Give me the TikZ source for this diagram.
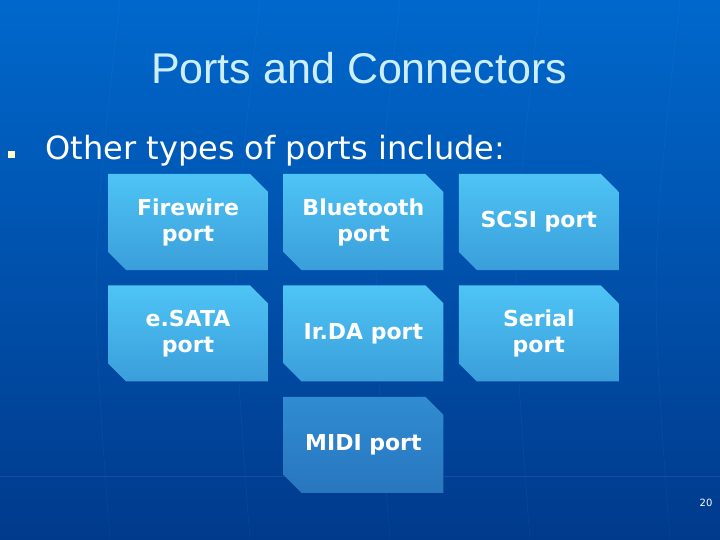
\documentclass[tikz,border=0pt]{standalone}
\usepackage{fontspec}
\setmainfont{Liberation Sans}
\newfontfamily\verdanafont{DejaVu Sans}
\usetikzlibrary{positioning,shapes.misc}
\definecolor{slideTop}{RGB}{0,104,204}
\definecolor{slideBottom}{RGB}{0,58,140}
\definecolor{titleCyan}{RGB}{205,238,255}
\definecolor{portTop}{RGB}{78,196,245}
\definecolor{portBottom}{RGB}{58,158,218}
\definecolor{midiTop}{RGB}{48,140,210}
\definecolor{midiBottom}{RGB}{40,118,190}
\definecolor{bulletYellow}{RGB}{255,255,200}

\begin{document}
\begin{tikzpicture}[x=1pt, y=-1pt, node distance=15pt,
    portbox/.style={chamfered rectangle, chamfered rectangle corners={north east,south west},
      chamfered rectangle xsep=9pt, chamfered rectangle ysep=9pt, inner sep=0pt,
      minimum width=160pt, minimum height=96pt, top color=portTop, bottom color=portBottom,
      draw=none, text=white, align=center, font=\verdanafont\bfseries\fontsize{22}{26}\selectfont},
    midibox/.style={portbox, top color=midiTop, bottom color=midiBottom}]
    % slide background
    \shade[top color=slideTop, bottom color=slideBottom] (0,0) rectangle (720,540);
    \useasboundingbox (0,0) rectangle (720,540);
    \foreach \xx in {120,260,400,540,680}
        \draw[white, opacity=0.06] (\xx,0) .. controls (\xx-30,270) .. (\xx-10,540);
    \draw[white, opacity=0.08] (0,476) -- (720,476);

    \node[text=titleCyan, font=\fontsize{43}{48}\selectfont] (title) at (359,68) {Ports and Connectors};
    \node[fill=bulletYellow, minimum size=7pt, inner sep=0pt] (bullet) at (11,155) {};
    \node[anchor=west, text=white, font=\verdanafont\fontsize{32}{36}\selectfont] (intro) at (42,151) {Other types of ports include:};

    \node[portbox] (firewire) at (188,222) {Firewire\\port};
    \node[portbox, right=of firewire] (bluetooth) {Bluetooth\\port};
    \node[portbox, right=of bluetooth] (scsi) {SCSI port};
    \node[portbox, below=of firewire] (esata) {e.SATA\\port};
    \node[portbox, below=of bluetooth] (irda) {Ir.DA port};
    \node[portbox, below=of scsi] (serial) {Serial\\port};
    \node[midibox, below=of irda] (midi) {MIDI port};

    \node[text=white, font=\verdanafont\fontsize{10}{11}\selectfont] (pagenum) at (706,503) {20};
\end{tikzpicture}
\end{document}
